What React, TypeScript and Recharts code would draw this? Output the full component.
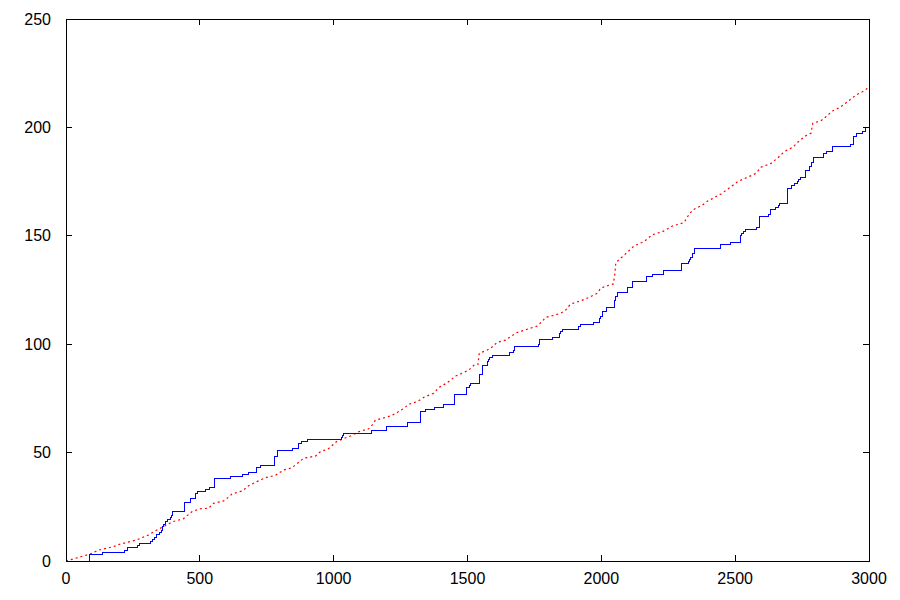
import React from "react";
import { LineChart, Line, XAxis, YAxis, ReferenceArea } from "recharts";

// Blue step series (stepAfter): [x, count]
const blueX = [86, 86, 137, 218, 231, 268, 274, 315, 323, 332, 338, 349, 355, 360, 365, 370, 379, 390, 393, 398, 443, 466, 485, 490, 523, 535, 554, 556, 615, 660, 680, 712, 727, 779, 790, 847, 869, 880, 903, 1030, 1034, 1037, 1142, 1198, 1277, 1323, 1342, 1376, 1409, 1450, 1452, 1495, 1498, 1507, 1513, 1544, 1556, 1575, 1577, 1581, 1594, 1656, 1670, 1677, 1767, 1769, 1817, 1842, 1847, 1854, 1913, 1924, 1970, 1993, 1996, 2006, 2018, 2049, 2052, 2061, 2096, 2115, 2170, 2191, 2231, 2298, 2301, 2324, 2329, 2334, 2341, 2347, 2444, 2481, 2519, 2525, 2532, 2540, 2581, 2590, 2625, 2632, 2652, 2661, 2664, 2695, 2709, 2723, 2732, 2737, 2743, 2762, 2777, 2785, 2791, 2829, 2843, 2864, 2930, 2943, 2953, 2975, 2988, 3000];
const blueY = [0, 3, 4, 5, 6, 7, 8, 9, 10, 11, 12, 13, 14, 16, 17, 18, 19, 20, 21, 23, 27, 29, 31, 32, 33, 34, 36, 38, 39, 40, 41, 43, 44, 48, 51, 52, 54, 55, 56, 57, 58, 59, 60, 62, 64, 69, 70, 71, 72, 75, 77, 78, 80, 81, 82, 86, 90, 92, 93, 94, 95, 96, 97, 99, 100, 102, 103, 105, 106, 107, 108, 109, 110, 112, 113, 115, 117, 120, 122, 124, 126, 129, 131, 132, 134, 136, 137, 138, 139, 140, 142, 144, 146, 147, 150, 151, 152, 153, 154, 159, 160, 162, 163, 164, 165, 172, 173, 174, 175, 176, 177, 180, 182, 184, 186, 188, 189, 191, 192, 196, 197, 198, 200, 200];

// Red dotted series: [x, value]
const redX = [0, 90, 121, 177, 202, 264, 308, 339, 364, 395, 439, 470, 501, 532, 551, 589, 607, 620, 660, 682, 713, 745, 782, 813, 844, 872, 888, 932, 950, 981, 1010, 1031, 1065, 1093, 1131, 1140, 1156, 1181, 1212, 1231, 1262, 1281, 1312, 1337, 1374, 1393, 1424, 1455, 1486, 1505, 1524, 1539, 1544, 1574, 1593, 1611, 1642, 1661, 1683, 1723, 1761, 1780, 1792, 1823, 1848, 1867, 1885, 1923, 1954, 1985, 1998, 2029, 2045, 2050, 2054, 2079, 2097, 2122, 2160, 2191, 2228, 2266, 2309, 2322, 2341, 2378, 2397, 2447, 2484, 2509, 2546, 2578, 2596, 2634, 2659, 2683, 2715, 2740, 2765, 2783, 2790, 2821, 2839, 2864, 2895, 2920, 2951, 2983, 3000];
const redY = [0, 3.2, 5, 6.6, 7.8, 9.7, 12, 14.3, 15.8, 18, 19.5, 22.7, 24.1, 24.3, 26.6, 27.7, 29.4, 30.9, 32.4, 34.7, 36.6, 38.4, 39.5, 42, 43, 45.8, 47.4, 48.4, 50.4, 51.8, 55, 56.1, 57.8, 59.6, 61, 62, 65, 65.8, 66.9, 68, 70.4, 72.3, 73.5, 75.5, 77.4, 80, 82.2, 85.3, 86.9, 88.1, 90.3, 90.6, 95.8, 97.3, 98.8, 100.9, 101.9, 103.5, 105.3, 106.9, 108.4, 110.7, 112.4, 113.3, 114.3, 115.8, 118.5, 120, 121.6, 123.5, 125.9, 127.2, 127.8, 131.9, 137.6, 140.4, 142.4, 145.3, 147.4, 150.5, 151.9, 154.5, 156.1, 158.8, 161.9, 164.2, 166, 169.3, 172.6, 175, 177, 178.8, 181.6, 183.4, 185.9, 188.8, 190.8, 193.9, 196.2, 197.3, 201.9, 203.1, 204.9, 207.6, 209.5, 211.9, 214.9, 216.9, 218.8];

const xTicks = [0, 500, 1000, 1500, 2000, 2500, 3000];
const yTicks = [0, 50, 100, 150, 200, 250];

const blueData = blueX.map((x, i) => ({ x, y: blueY[i] }));
const redData = redX.map((x, i) => ({ x, y: redY[i] }));

const W = 900;
const H = 600;
const M = { top: 19, right: 31, bottom: 0, left: 0 };
const Y_AXIS_W = 66;
const X_AXIS_H = 39;
const PLOT_TOP = M.top;
const PLOT_BOTTOM = H - M.bottom - X_AXIS_H;
const PLOT_LEFT = M.left + Y_AXIS_W;
const PLOT_RIGHT = W - M.right;
const TICK = 6;
const FONT = "'Liberation Sans', Arial, Helvetica, sans-serif";
const FS = 16;

const XTick = (props: any) => {
  const { x, payload } = props;
  return (
    <g>
      <line x1={x} x2={x} y1={PLOT_BOTTOM} y2={PLOT_BOTTOM - TICK} stroke="#000" shapeRendering="crispEdges" />
      <line x1={x} x2={x} y1={PLOT_TOP} y2={PLOT_TOP + TICK} stroke="#000" shapeRendering="crispEdges" />
      <text x={x} y={PLOT_BOTTOM + 23} textAnchor="middle" fontFamily={FONT} fontSize={FS} fill="#000">
        {payload.value}
      </text>
    </g>
  );
};

const YTick = (props: any) => {
  const { y, payload } = props;
  return (
    <g>
      <line x1={PLOT_LEFT} x2={PLOT_LEFT + TICK} y1={y} y2={y} stroke="#000" shapeRendering="crispEdges" />
      <line x1={PLOT_RIGHT} x2={PLOT_RIGHT - TICK} y1={y} y2={y} stroke="#000" shapeRendering="crispEdges" />
      <text x={PLOT_LEFT - 15} y={y + 5.5} textAnchor="end" fontFamily={FONT} fontSize={FS} fill="#000">
        {payload.value}
      </text>
    </g>
  );
};

export default function App() {
  return (
    <div style={{ position: "absolute", left: 0, top: 0, width: W, height: H, background: "#fff" }}>
      <LineChart width={W} height={H} margin={M}>
        <XAxis
          type="number"
          dataKey="x"
          domain={[0, 3000]}
          ticks={xTicks}
          interval={0}
          height={X_AXIS_H}
          axisLine={false}
          tickLine={false}
          tick={<XTick />}
          allowDataOverflow
        />
        <YAxis
          type="number"
          dataKey="y"
          domain={[0, 250]}
          ticks={yTicks}
          interval={0}
          width={Y_AXIS_W}
          axisLine={false}
          tickLine={false}
          tick={<YTick />}
          allowDataOverflow
        />
        <ReferenceArea x1={0} x2={3000} y1={0} y2={250} fill="none" stroke="#000" strokeWidth={1} ifOverflow="visible" shapeRendering="crispEdges" />
        <Line
          data={redData}
          dataKey="y"
          type="linear"
          stroke="#ff0000"
          strokeWidth={1.2}
          strokeDasharray="2 3"
          dot={false}
          activeDot={false}
          isAnimationActive={false}
        />
        <Line
          data={blueData}
          dataKey="y"
          type="stepAfter"
          stroke="#0000ff"
          strokeWidth={1}
          dot={false}
          activeDot={false}
          isAnimationActive={false}
          shapeRendering="crispEdges"
        />
      </LineChart>
    </div>
  );
}
